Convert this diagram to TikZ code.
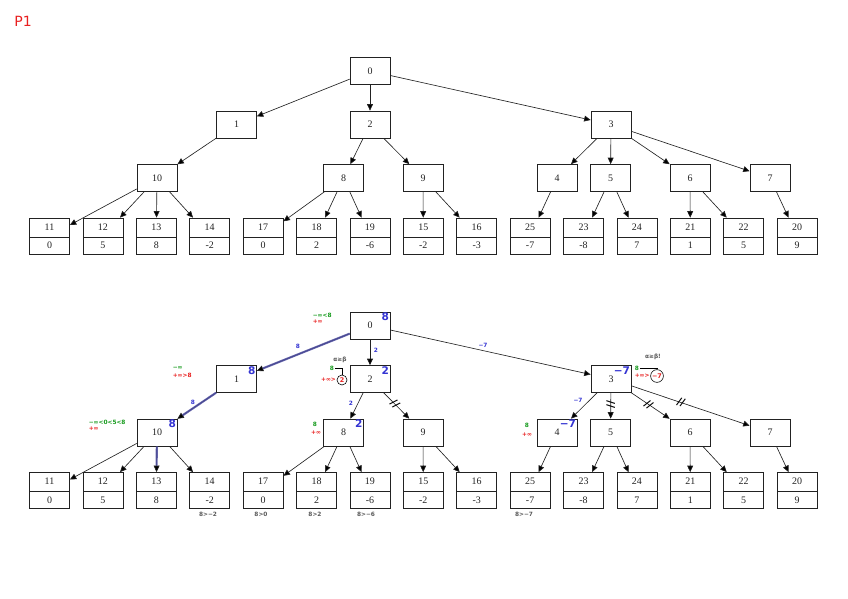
\documentclass[tikz,border=0pt]{standalone}
\usepackage{fontspec}
\setmainfont{Liberation Serif}
\newfontfamily\handfont{DejaVu Sans}
\usepackage{xcolor}
\usepackage{tikz}
\usetikzlibrary{arrows.meta, shapes.multipart}
\definecolor{Ink}{HTML}{222222}
\definecolor{HandGreen}{HTML}{159A1C}
\definecolor{HandRed}{HTML}{E82020}
\definecolor{HandBlue}{HTML}{3434D2}
\definecolor{PathBlue}{HTML}{4A4A9E}
\tikzset{
  treenode/.style={draw=Ink, line width=0.6pt, minimum width=1.2cm, minimum height=0.81cm, inner sep=0pt, font=\fontsize{8.5}{10}\selectfont, text=Ink},
  leafnode/.style={draw=Ink, line width=0.6pt, rectangle split, rectangle split parts=2, minimum width=1.2cm, text height=6pt, text depth=1.5pt, inner ysep=4.1pt, inner xsep=0pt, font=\fontsize{8.5}{10}\selectfont, text=Ink},
  edge/.style={-{Triangle[length=5.5pt, width=5pt]}, draw=Ink, line width=0.55pt},
  hilite/.style={draw=PathBlue, line width=1.8pt, opacity=0.85, shorten >=5.5pt},
  cut/.style={sloped, inner sep=0pt, font=\handfont\bfseries\fontsize{9}{9}\selectfont},
  hand/.style={inner sep=0.5pt, font=\handfont\bfseries\fontsize{5}{5.5}\selectfont},
  alo/.style={hand, text=HandGreen},
  bhi/.style={hand, text=HandRed},
  elab/.style={hand, text=HandBlue},
  note/.style={hand, text=black!65},
  val/.style={inner sep=1pt, font=\handfont\bfseries\fontsize{9}{9}\selectfont, text=HandBlue},
  circ/.style={circle, draw=black, line width=0.5pt, inner sep=0.6pt, minimum size=0.3cm, text=HandRed, font=\handfont\bfseries\fontsize{5.5}{6}\selectfont},
  hook/.style={draw=black, line width=0.4pt},
  pone/.style={text=HandRed, font=\handfont\fontsize{12}{13}\selectfont, inner sep=0pt},
}

\begin{document}
\begin{tikzpicture}[x=0.03cm, y=-0.03cm]
  \useasboundingbox (0,0) rectangle (848,599);

  % Page mark
  \node[pone] (title) at (23,21) {P1};

  % Both trees: plain one on top (t), annotated one below (b)
  \foreach \p/\dy in {t/0, b/254.5} {
    % Inner nodes
    \foreach \n/\x/\lvl in {0/370/0, 1/236.5/1, 2/370/1, 3/611/1, 10/157/2, 8/343.5/2, 9/423/2, 4/557/2, 5/610.5/2, 6/690/2, 7/770/2}
      \node[treenode] (\p\n) at (\x, 71+53.5*\lvl+\dy) {\n};
    % Leaves with their values
    \foreach \n/\v [count=\i from 0] in {11/0, 12/5, 13/8, 14/-2, 17/0, 18/2, 19/-6, 15/-2, 16/-3, 25/-7, 23/-8, 24/7, 21/1, 22/5, 20/9}
      \node[leafnode] (\p\n) at (49.5+53.4*\i, 236+\dy) {\n\nodepart{two}\v};
    % Edges
    \foreach \a/\b in {0/1, 0/2, 0/3, 1/10, 2/8, 2/9, 3/4, 3/5, 3/6, 3/7, 10/11, 10/12, 10/13, 10/14, 8/17, 8/18, 8/19, 9/15, 9/16, 4/25, 5/23, 5/24, 6/21, 6/22, 7/20}
      \draw[edge] (\p\a) -- (\p\b);
  }

  % Chosen path
  \draw[hilite] (b0) -- (b1);
  \draw[hilite] (b1) -- (b10);
  \draw[hilite] (b10) -- (b13);

  % Pruned edges
  \path (b2) -- (b9) node[cut, pos=0.44] (cut29) {//};
  \path (b3) -- (b5) node[cut, pos=0.45] (cut35) {//};
  \path (b3) -- (b6) node[cut, pos=0.45] (cut36) {//};
  \path (b3) -- (b7) node[cut, pos=0.42] (cut37) {//};

  % Returned values
  \node[val, anchor=north east] (v0) at (b0.north east) {8};
  \node[val, anchor=north east] (v1) at (b1.north east) {8};
  \node[val, anchor=north east] (v10) at (b10.north east) {8};
  \node[val, anchor=north east] (v2) at (b2.north east) {2};
  \node[val, anchor=north east] (v8) at (b8.north east) {2};
  \node[val, anchor=north east] (v3) at (b3.north east) {−7};
  \node[val, anchor=north east] (v4) at (b4.north east) {−7};

  % Values along the edges
  \node[elab] (e01) at (298,346) {8};
  \node[elab] (e02) at (376,350) {2};
  \node[elab] (e03) at (483,345) {−7};
  \node[elab] (e110) at (193,402) {8};
  \node[elab] (e28) at (351,403) {2};
  \node[elab] (e34) at (578,400) {−7};

  % Alpha and beta
  \node[alo, anchor=west] (a0) at (312,315) {−∞<8};
  \node[bhi, anchor=west] (b0hi) at (312,321.5) {+∞};
  \node[alo, anchor=west] (a1) at (172,368) {−∞};
  \node[bhi, anchor=west] (b1hi) at (172,375) {+∞>8};
  \node[alo, anchor=west] (a10) at (88,422) {−∞<0<5<8};
  \node[bhi, anchor=west] (b10hi) at (88,429) {+∞};
  \node[alo] (a8) at (315,424) {8};
  \node[bhi] (b8hi) at (316,433) {+∞};
  \node[alo] (a4) at (527,425) {8};
  \node[bhi] (b4hi) at (527,435) {+∞};

  % Cut-offs at 2 and 3
  \node[note] (ab2) at (340,360) {α≥β};
  \node[alo] (a2) at (332,368) {8};
  \node[circ] (k2) at (342,380) {2};
  \node[bhi, anchor=east] (b2hi) at (k2.west) {+∞>};
  \draw[hook] (a2.east) -| (k2.north);
  \node[note] (ab3) at (653,357) {α≥β!};
  \node[alo] (a3) at (637,368) {8};
  \node[circ] (k3) at (657,376) {−7};
  \node[bhi, anchor=east] (b3hi) at (k3.west) {+∞>};
  \draw[hook] (a3.east) -| (k3.north);

  % Checks under the leaves
  \node[note] (n14) at (208,514) {8>−2};
  \node[note] (n17) at (261,514) {8>0};
  \node[note] (n18) at (315,514) {8>2};
  \node[note] (n19) at (366,514) {8>−6};
  \node[note] (n25) at (524,514) {8>−7};
\end{tikzpicture}
\end{document}
